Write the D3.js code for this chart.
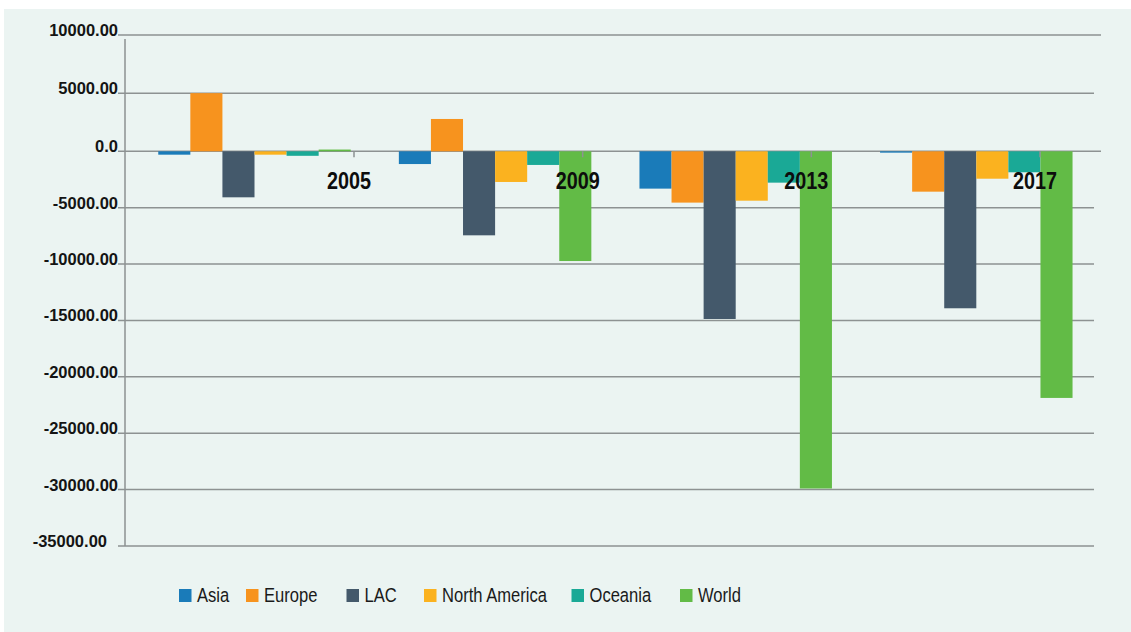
<!DOCTYPE html>
<html>
<head>
<meta charset="utf-8">
<script src="https://cdn.jsdelivr.net/npm/d3@7"></script>
<style>
  html, body { margin: 0; padding: 0; background: #ffffff; }
  svg { display: block; }
</style>
</head>
<body>
<svg id="chart" width="1131" height="632"></svg>
<script>
const categories = ["2005", "2009", "2013", "2017"];
const seriesNames = ["Asia", "Europe", "LAC", "North America", "Oceania", "World"];
const asia         = [-300, -1130, -3310, -120];
const europe       = [5000, 2780, -4550, -3580];
const lac          = [-4080, -7450, -14870, -13920];
const northAmerica = [-300, -2720, -4380, -2430];
const oceania      = [-400, -1210, -2780, -1860];
const world        = [150, -9730, -29900, -21870];
const yTickValues  = [10000, 5000, 0, -5000, -10000, -15000, -20000, -25000, -30000, -35000];
const yTickLabels  = ["10000.00", "5000.00", "0.0", "-5000.00", "-10000.00", "-15000.00", "-20000.00", "-25000.00", "-30000.00", "-35000.00"];

const seriesValues = [asia, europe, lac, northAmerica, oceania, world];
const colors = ["#1a7bb9", "#f7931e", "#44596b", "#fbb21f", "#1aa996", "#62bb46"];

// layout constants (not data)
const legendSlots = [179, 246, 346.5, 424, 571.5, 680];

const svg = d3.select("#chart");

// background panel
svg.append("rect").attr("x", 4).attr("y", 9).attr("width", 1127).attr("height", 623).attr("fill", "#ebf4f2");

const y = d3.scaleLinear().domain([-35000, 0, 10000]).range([546, 151.3, 35]);
const x0 = d3.scaleBand().domain(categories).range([134.2, 1096.6]).paddingInner(0.2).paddingOuter(0.1);
const x1 = d3.scaleBand().domain(seriesNames).range([0, x0.bandwidth()]).padding(0);
const xTick = d3.scalePoint().domain(categories).range([354, 1040]);
const color = d3.scaleOrdinal().domain(seriesNames).range(colors);

const gridColor = "#8d9292";

// gridlines
svg.append("g").selectAll("line").data(yTickValues).join("line")
  .attr("x1", 118)
  .attr("x2", d => (d === 0 || d === 10000) ? 1101 : 1094)
  .attr("y1", d => y(d)).attr("y2", d => y(d))
  .attr("stroke", gridColor).attr("stroke-width", 1.5);

// y axis line
svg.append("line").attr("x1", 125).attr("x2", 125).attr("y1", 39).attr("y2", y(-35000))
  .attr("stroke", gridColor).attr("stroke-width", 1.5);

// y tick labels
svg.append("g").selectAll("text").data(yTickValues).join("text")
  .attr("x", (d, i) => i === yTickValues.length - 1 ? 107 : 118)
  .attr("y", d => y(d) + 1)
  .attr("text-anchor", "end")
  .attr("font-family", "'Liberation Sans', Arial, sans-serif")
  .attr("font-weight", "bold")
  .attr("font-size", 16.5)
  .attr("fill", "#141414")
  .text((d, i) => yTickLabels[i]);

// bars
const groups = svg.append("g").selectAll("g").data(categories).join("g")
  .attr("transform", d => `translate(${x0(d)},0)`);
groups.selectAll("rect")
  .data((c, ci) => seriesNames.map((s, si) => ({ s, v: seriesValues[si][ci] })))
  .join("rect")
  .attr("x", d => x1(d.s))
  .attr("width", x1.bandwidth())
  .attr("y", d => y(Math.max(0, d.v)))
  .attr("height", d => Math.abs(y(d.v) - y(0)))
  .attr("fill", d => color(d.s));

// category ticks on zero line
svg.append("g").selectAll("line").data(categories).join("line")
  .attr("x1", d => xTick(d)).attr("x2", d => xTick(d))
  .attr("y1", y(0)).attr("y2", y(0) + 6)
  .attr("stroke", gridColor).attr("stroke-width", 1.5);

// category labels (condensed look via horizontal scale)
svg.append("g").selectAll("text").data(categories).join("text")
  .attr("transform", d => `translate(${xTick(d) - 5},189) scale(0.86,1)`)
  .attr("text-anchor", "middle")
  .attr("font-family", "'Liberation Sans', Arial, sans-serif")
  .attr("font-weight", "bold")
  .attr("font-size", 23)
  .attr("fill", "#0d0d0d")
  .text(d => d);

// legend
const legend = svg.append("g");
seriesNames.forEach((s, i) => {
  const lx = legendSlots[i];
  legend.append("rect").attr("x", lx).attr("y", 589).attr("width", 12.5).attr("height", 13).attr("fill", color(s));
  legend.append("text")
    .attr("transform", `translate(${lx + 18},602) scale(0.85,1)`)
    .attr("font-family", "'Liberation Sans', Arial, sans-serif")
    .attr("font-size", 19.5)
    .attr("fill", "#1a1a1a")
    .text(s);
});
</script>
</body>
</html>
